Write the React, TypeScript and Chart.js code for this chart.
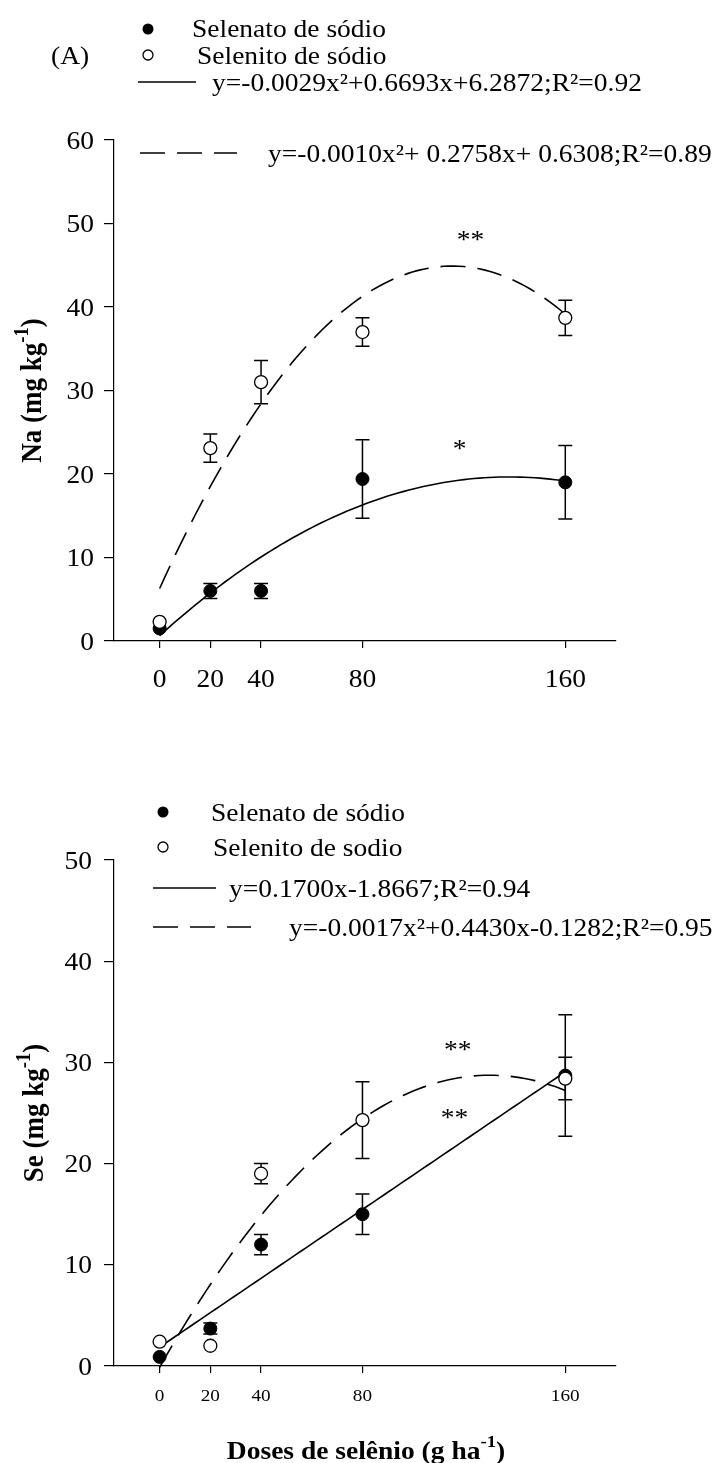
import React, { useEffect, useRef } from 'react';
import { Chart, registerables } from 'chart.js';

Chart.register(...registerables);

// ---------- data ----------
const doses = [0, 20, 40, 80, 160];
const xTickLabels = ['0', '20', '40', '80', '160'];

// Na (mg kg-1)
const naYTicks = [0, 10, 20, 30, 40, 50, 60];
const naSelenato = [1.5, 6.0, 6.0, 19.4, 19.0];
const naSelenatoErr = [0, 0.9, 0.9, 4.7, 4.4];
const naSelenito = [2.3, 23.1, 31.0, 37.0, 38.7];
const naSelenitoErr = [0, 1.7, 2.6, 1.7, 2.1];
const naSolidFit = [-0.001, 0.2758, 0.6308];
const naDashedFit = [-0.0029, 0.6693, 6.2872];
const naLegend = [
  'Selenato de sódio',
  'Selenito de sódio',
  'y=-0.0029x²+0.6693x+6.2872;R²=0.92',
  'y=-0.0010x²+ 0.2758x+ 0.6308;R²=0.89',
];
const naStars = [
  { x: 122.6, y: 48.6, t: '**' },
  { x: 118.3, y: 23.5, t: '*' },
];

// Se (mg kg-1)
const seYTicks = [0, 10, 20, 30, 40, 50];
const seSelenato = [0.9, 3.7, 12.0, 15.0, 28.7];
const seSelenatoErr = [0, 0.55, 1.0, 2.0, 6.0];
const seSelenito = [2.4, 2.0, 19.0, 24.3, 28.4];
const seSelenitoErr = [0, 0, 1.0, 3.8, 2.1];
const seSolidFit = [0, 0.17, 1.8667];
const seDashedFit = [-0.0017, 0.443, -0.1282];
const seLegend = [
  'Selenato de sódio',
  'Selenito de sodio',
  'y=0.1700x-1.8667;R²=0.94',
  'y=-0.0017x²+0.4430x-0.1282;R²=0.95',
];
const seStars = [
  { x: 117.6, y: 31.7, t: '**' },
  { x: 116.3, y: 25.0, t: '**' },
];

// ---------- layout ----------
const W = 720;
const H = 1463;
const AXIS_LEFT = 114;
const AXIS_RIGHT = 616;
const Y_TICK_LEN = 10;
const X_TICK_LEN = 7;
const X_MIN = -18;
const X_MAX = 180;
const FONT = '"Liberation Serif", "Times New Roman", Times, serif';
const SX = 1.1; // horizontal text stretch
const MARK_R = 6.5;
const CAP = 7;
const DASH = [25, 12];
const LINE_W = 1.6;

type Seg = { t: string; sup?: boolean };

function drawRich(
  ctx: CanvasRenderingContext2D,
  segs: Seg[],
  x: number,
  y: number,
  size: number,
  opts: { bold?: boolean; align?: 'left' | 'center' | 'right'; rotate?: boolean; lift?: number } = {}
) {
  const weight = opts.bold ? 'bold ' : '';
  const supSize = size * 0.68;
  ctx.save();
  ctx.fillStyle = '#000';
  ctx.textBaseline = 'alphabetic';
  ctx.textAlign = 'left';
  const widths = segs.map((s) => {
    ctx.font = `${weight}${s.sup ? supSize : size}px ${FONT}`;
    return ctx.measureText(s.t).width;
  });
  const total = widths.reduce((a, b) => a + b, 0);
  let start = opts.align === 'center' ? -total / 2 : opts.align === 'right' ? -total : 0;
  ctx.translate(x, y);
  ctx.scale(SX, 1);
  if (opts.rotate) ctx.rotate(-Math.PI / 2);
  const base = size * (opts.lift ?? 0.34);
  segs.forEach((s, i) => {
    ctx.font = `${weight}${s.sup ? supSize : size}px ${FONT}`;
    ctx.fillText(s.t, start, s.sup ? base - size * 0.45 : base);
    start += widths[i];
  });
  ctx.restore();
}

function fitCurve(c: number[]) {
  const pts: { x: number; y: number }[] = [];
  for (let x = 0; x <= 160; x += 2) pts.push({ x, y: c[0] * x * x + c[1] * x + c[2] });
  return pts;
}

interface Panel {
  top: number;
  bottom: number;
  yMax: number;
  yTicks: number[];
  filled: number[];
  filledErr: number[];
  open: number[];
  openErr: number[];
  solidFit: number[];
  dashedFit: number[];
  legend: string[];
  stars: { x: number; y: number; t: string }[];
  yTitle: string;
  tickSize: number;
  xTickSize: number;
  yLabelRight: number;
  xLabelY: number;
  yTitleX: number;
  leg: {
    filled: [number, number];
    filledText: [number, number];
    open: [number, number];
    openText: [number, number];
    solid: [number, number, number];
    solidText: [number, number];
    dashed: [number, number, number];
    dashedText: [number, number];
  };
  tag?: { t: string; x: number; y: number };
  xTitle?: { x: number; y: number };
}

const naPanel: Panel = {
  top: 140,
  bottom: 641,
  yMax: 60,
  yTicks: naYTicks,
  filled: naSelenato,
  filledErr: naSelenatoErr,
  open: naSelenito,
  openErr: naSelenitoErr,
  solidFit: naSolidFit,
  dashedFit: naDashedFit,
  legend: naLegend,
  stars: naStars,
  yTitle: 'Na',
  tickSize: 25,
  xTickSize: 25,
  yLabelRight: 94,
  xLabelY: 678,
  yTitleX: 31,
  leg: {
    filled: [148, 29],
    filledText: [192, 28],
    open: [148, 55],
    openText: [197, 55],
    solid: [138, 196, 82],
    solidText: [212, 82],
    dashed: [140, 237, 153],
    dashedText: [268, 153],
  },
  tag: { t: '(A)', x: 51, y: 55 },
};

const sePanel: Panel = {
  top: 860,
  bottom: 1366,
  yMax: 50,
  yTicks: seYTicks,
  filled: seSelenato,
  filledErr: seSelenatoErr,
  open: seSelenito,
  openErr: seSelenitoErr,
  solidFit: seSolidFit,
  dashedFit: seDashedFit,
  legend: seLegend,
  stars: seStars,
  yTitle: 'Se',
  tickSize: 25,
  xTickSize: 17.5,
  yLabelRight: 92,
  xLabelY: 1395,
  yTitleX: 33,
  leg: {
    filled: [163, 812],
    filledText: [211, 812],
    open: [163, 847],
    openText: [213, 847],
    solid: [153, 216, 888],
    solidText: [229, 888],
    dashed: [153, 251, 927],
    dashedText: [289, 927],
  },
  xTitle: { x: 366, y: 1450 },
};

function decorPlugin(p: Panel) {
  return {
    id: 'panelDecor',
    beforeDatasetsDraw(chart: any) {
      const ctx: CanvasRenderingContext2D = chart.ctx;
      const xs = chart.scales.x;
      const ys = chart.scales.y;
      ctx.save();
      ctx.strokeStyle = '#000';
      ctx.lineWidth = 1.5;
      const series: [number[], number[]][] = [
        [p.filled, p.filledErr],
        [p.open, p.openErr],
      ];
      series.forEach(([vals, errs]) =>
        vals.forEach((v, i) => {
          const e = errs[i];
          if (!e) return;
          const px = xs.getPixelForValue(doses[i]);
          const top = ys.getPixelForValue(v + e);
          const bot = ys.getPixelForValue(v - e);
          ctx.beginPath();
          ctx.moveTo(px, top);
          ctx.lineTo(px, bot);
          ctx.moveTo(px - CAP, top);
          ctx.lineTo(px + CAP, top);
          ctx.moveTo(px - CAP, bot);
          ctx.lineTo(px + CAP, bot);
          ctx.stroke();
        })
      );
      ctx.restore();
    },
    afterDraw(chart: any) {
      const ctx: CanvasRenderingContext2D = chart.ctx;
      const xs = chart.scales.x;
      const ys = chart.scales.y;

      // tick labels
      p.yTicks.forEach((v) =>
        drawRich(ctx, [{ t: String(v) }], p.yLabelRight, ys.getPixelForValue(v), p.tickSize, { align: 'right' })
      );
      doses.forEach((d, i) =>
        drawRich(ctx, [{ t: xTickLabels[i] }], xs.getPixelForValue(d), p.xLabelY, p.xTickSize, { align: 'center' })
      );

      // axis titles
      drawRich(
        ctx,
        [{ t: `${p.yTitle} (mg kg` }, { t: '-1', sup: true }, { t: ')' }],
        p.yTitleX,
        (p.top + p.bottom) / 2,
        27,
        { bold: true, align: 'center', rotate: true }
      );
      if (p.xTitle) {
        drawRich(
          ctx,
          [{ t: 'Doses de selênio (g ha' }, { t: '-1', sup: true }, { t: ')' }],
          p.xTitle.x,
          p.xTitle.y,
          25,
          { bold: true, align: 'center' }
        );
      }
      if (p.tag) drawRich(ctx, [{ t: p.tag.t }], p.tag.x, p.tag.y, 25);

      // significance marks
      p.stars.forEach((s) =>
        drawRich(ctx, [{ t: s.t }], xs.getPixelForValue(s.x), ys.getPixelForValue(s.y), 25, {
          align: 'center',
          lift: 0.5,
        })
      );

      // legend
      const L = p.leg;
      ctx.save();
      ctx.strokeStyle = '#000';
      ctx.lineWidth = 1.3;
      ctx.fillStyle = '#000';
      ctx.beginPath();
      ctx.arc(L.filled[0], L.filled[1], 5.5, 0, Math.PI * 2);
      ctx.fill();
      ctx.fillStyle = '#fff';
      ctx.beginPath();
      ctx.arc(L.open[0], L.open[1], 5, 0, Math.PI * 2);
      ctx.fill();
      ctx.stroke();
      ctx.lineWidth = LINE_W;
      ctx.beginPath();
      ctx.moveTo(L.solid[0], L.solid[2]);
      ctx.lineTo(L.solid[1], L.solid[2]);
      ctx.stroke();
      ctx.setLineDash(DASH);
      ctx.beginPath();
      ctx.moveTo(L.dashed[0], L.dashed[2]);
      ctx.lineTo(L.dashed[1], L.dashed[2]);
      ctx.stroke();
      ctx.restore();
      drawRich(ctx, [{ t: p.legend[0] }], L.filledText[0], L.filledText[1], 25);
      drawRich(ctx, [{ t: p.legend[1] }], L.openText[0], L.openText[1], 25);
      drawRich(ctx, [{ t: p.legend[2] }], L.solidText[0], L.solidText[1], 25);
      drawRich(ctx, [{ t: p.legend[3] }], L.dashedText[0], L.dashedText[1], 25);
    },
  };
}

function makeConfig(p: Panel): any {
  return {
    type: 'scatter',
    data: {
      datasets: [
        {
          type: 'scatter',
          label: p.legend[1],
          data: doses.map((d, i) => ({ x: d, y: p.open[i] })),
          pointRadius: MARK_R,
          pointBackgroundColor: '#fff',
          pointBorderColor: '#000',
          pointBorderWidth: 1.3,
          clip: false,
          order: 0,
        },
        {
          type: 'scatter',
          label: p.legend[0],
          data: doses.map((d, i) => ({ x: d, y: p.filled[i] })),
          pointRadius: MARK_R,
          pointBackgroundColor: '#000',
          pointBorderColor: '#000',
          pointBorderWidth: 1,
          clip: false,
          order: 1,
        },
        {
          type: 'line',
          label: 'solid fit',
          data: fitCurve(p.solidFit),
          borderColor: '#000',
          borderWidth: LINE_W,
          pointRadius: 0,
          fill: false,
          tension: 0,
          clip: false,
          order: 2,
        },
        {
          type: 'line',
          label: 'dashed fit',
          data: fitCurve(p.dashedFit),
          borderColor: '#000',
          borderWidth: LINE_W,
          borderDash: DASH,
          pointRadius: 0,
          fill: false,
          tension: 0,
          clip: false,
          order: 3,
        },
      ],
    },
    options: {
      responsive: false,
      animation: false,
      events: [],
      layout: {
        padding: {
          left: AXIS_LEFT - Y_TICK_LEN,
          right: W - AXIS_RIGHT,
          top: p.top,
          bottom: H - p.bottom - X_TICK_LEN,
        },
      },
      plugins: { legend: { display: false }, tooltip: { enabled: false }, title: { display: false } },
      scales: {
        x: {
          type: 'linear',
          min: X_MIN,
          max: X_MAX,
          afterBuildTicks: (s: any) => {
            s.ticks = doses.map((v) => ({ value: v }));
          },
          ticks: { display: false },
          grid: { drawOnChartArea: false, drawTicks: true, tickLength: X_TICK_LEN, color: '#000', lineWidth: 1.2 },
          border: { display: true, color: '#000', width: 1.2 },
          afterFit: (s: any) => {
            s.height = X_TICK_LEN;
          },
        },
        y: {
          type: 'linear',
          min: 0,
          max: p.yMax,
          afterBuildTicks: (s: any) => {
            s.ticks = p.yTicks.map((v) => ({ value: v }));
          },
          ticks: { display: false },
          grid: { drawOnChartArea: false, drawTicks: true, tickLength: Y_TICK_LEN, color: '#000', lineWidth: 1.2 },
          border: { display: true, color: '#000', width: 1.2 },
          afterFit: (s: any) => {
            s.width = Y_TICK_LEN;
          },
        },
      },
    },
    plugins: [decorPlugin(p)],
  };
}

export default function App() {
  const naRef = useRef<HTMLCanvasElement>(null);
  const seRef = useRef<HTMLCanvasElement>(null);

  useEffect(() => {
    document.body.style.margin = '0';
    const c1 = new Chart(naRef.current as HTMLCanvasElement, makeConfig(naPanel));
    const c2 = new Chart(seRef.current as HTMLCanvasElement, makeConfig(sePanel));
    return () => {
      c1.destroy();
      c2.destroy();
    };
  }, []);

  const canvasStyle: React.CSSProperties = { position: 'absolute', left: 0, top: 0 };
  return (
    <div style={{ position: 'relative', width: W, height: H, background: '#fff', overflow: 'hidden' }}>
      <canvas ref={naRef} width={W} height={H} style={canvasStyle} />
      <canvas ref={seRef} width={W} height={H} style={canvasStyle} />
    </div>
  );
}
